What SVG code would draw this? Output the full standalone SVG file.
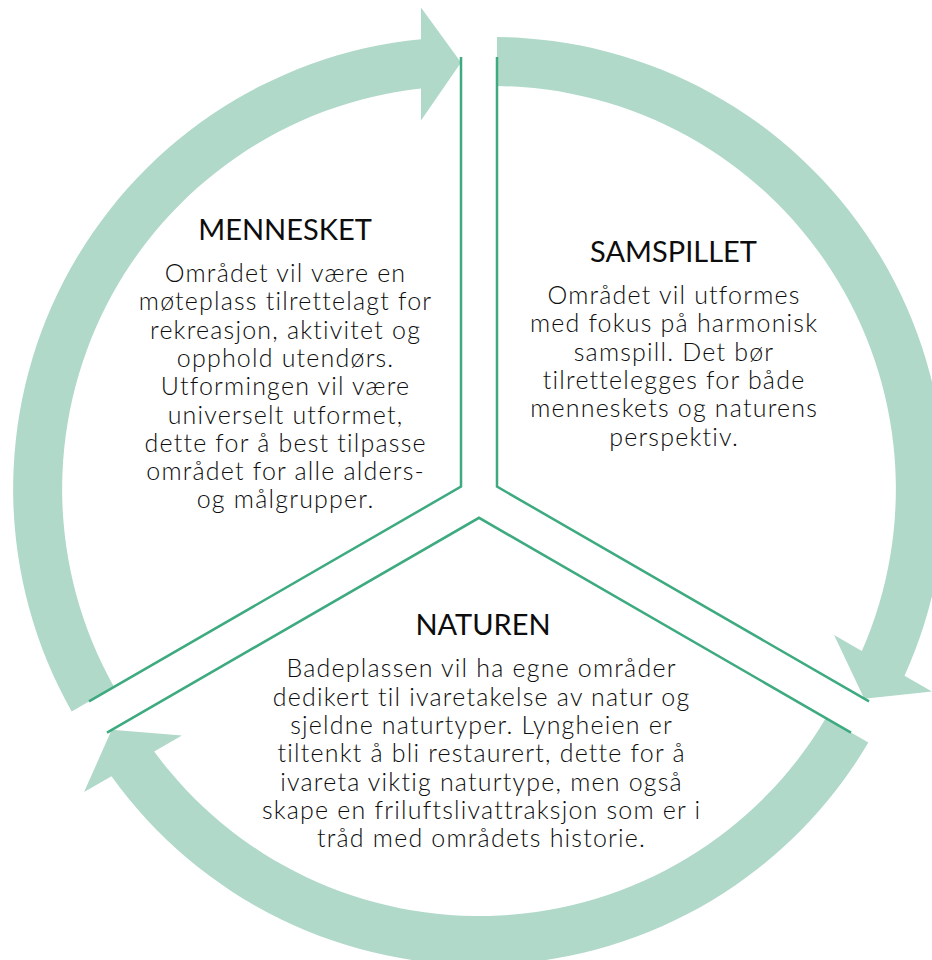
<svg xmlns="http://www.w3.org/2000/svg" width="932" height="960" viewBox="0 0 932 960">
<style>
.arc{fill:#B0D9C9}
.div{fill:none;stroke:#3DAA80;stroke-width:2.5;stroke-linejoin:miter}
.t{font-family:Lato,"Open Sans","Liberation Sans",sans-serif;fill:#0d0d0d;text-anchor:middle}
.h{font-size:29px;font-weight:400}
.b{font-size:25px;font-weight:300;letter-spacing:1.2px}
</style>
<defs>
<path id="arcShape" d="M114.1 686.9 L71.65 711.4 A452 452 0 0 1 421 39.16 L421 7.5 L461 62.5 L421 120.5 L421 88.42 A403 403 0 0 0 114.1 686.9 Z"/>
</defs>
<rect width="932" height="960" fill="#fff"/>
<g id="arrow-top-right"><use href="#arcShape" class="arc" transform="rotate(120 479 497)"/></g>
<g id="arrow-bottom"><use href="#arcShape" class="arc" transform="rotate(240 479 497)"/></g>
<g id="arrow-left"><use href="#arcShape" class="arc"/></g>
<g id="connectors">
<polyline class="div" points="461,57 461,486.6 89,701.4"/>
<polyline class="div" points="497,57 497,486.6 869,701.4"/>
<polyline class="div" points="107,732.6 479,517.8 851,732.6"/>
</g>
<g id="node-mennesket" class="t">
<text class="h" x="285" y="240">MENNESKET</text>
<text class="b" x="285.6" y="282">Området vil være en</text>
<text class="b" x="285.6" y="310.3">møteplass tilrettelagt for</text>
<text class="b" x="285.6" y="338.6">rekreasjon, aktivitet og</text>
<text class="b" x="285.6" y="366.9">opphold utendørs.</text>
<text class="b" x="285.6" y="395.2">Utformingen vil være</text>
<text class="b" x="285.6" y="423.5">universelt utformet,</text>
<text class="b" x="285.6" y="451.8">dette for å best tilpasse</text>
<text class="b" x="285.6" y="480.1">området for alle alders-</text>
<text class="b" x="285.6" y="508.4">og målgrupper.</text>
</g>
<g id="node-samspillet" class="t">
<text class="h" x="673.5" y="261.7">SAMSPILLET</text>
<text class="b" x="674.1" y="304">Området vil utformes</text>
<text class="b" x="674.1" y="332.3">med fokus på harmonisk</text>
<text class="b" x="674.1" y="360.6">samspill. Det bør</text>
<text class="b" x="674.1" y="388.9">tilrettelegges for både</text>
<text class="b" x="674.1" y="417.2">menneskets og naturens</text>
<text class="b" x="674.1" y="445.5">perspektiv.</text>
</g>
<g id="node-naturen" class="t">
<text class="h" x="483" y="635">NATUREN</text>
<text class="b" x="481.6" y="677.3">Badeplassen vil ha egne områder</text>
<text class="b" x="481.6" y="705.6">dedikert til ivaretakelse av natur og</text>
<text class="b" x="481.6" y="733.9">sjeldne naturtyper. Lyngheien er</text>
<text class="b" x="481.6" y="762.2">tiltenkt å bli restaurert, dette for å</text>
<text class="b" x="481.6" y="790.5">ivareta viktig naturtype, men også</text>
<text class="b" x="481.6" y="818.8">skape en friluftslivattraksjon som er i</text>
<text class="b" x="481.6" y="847.1">tråd med områdets historie.</text>
</g>
</svg>
